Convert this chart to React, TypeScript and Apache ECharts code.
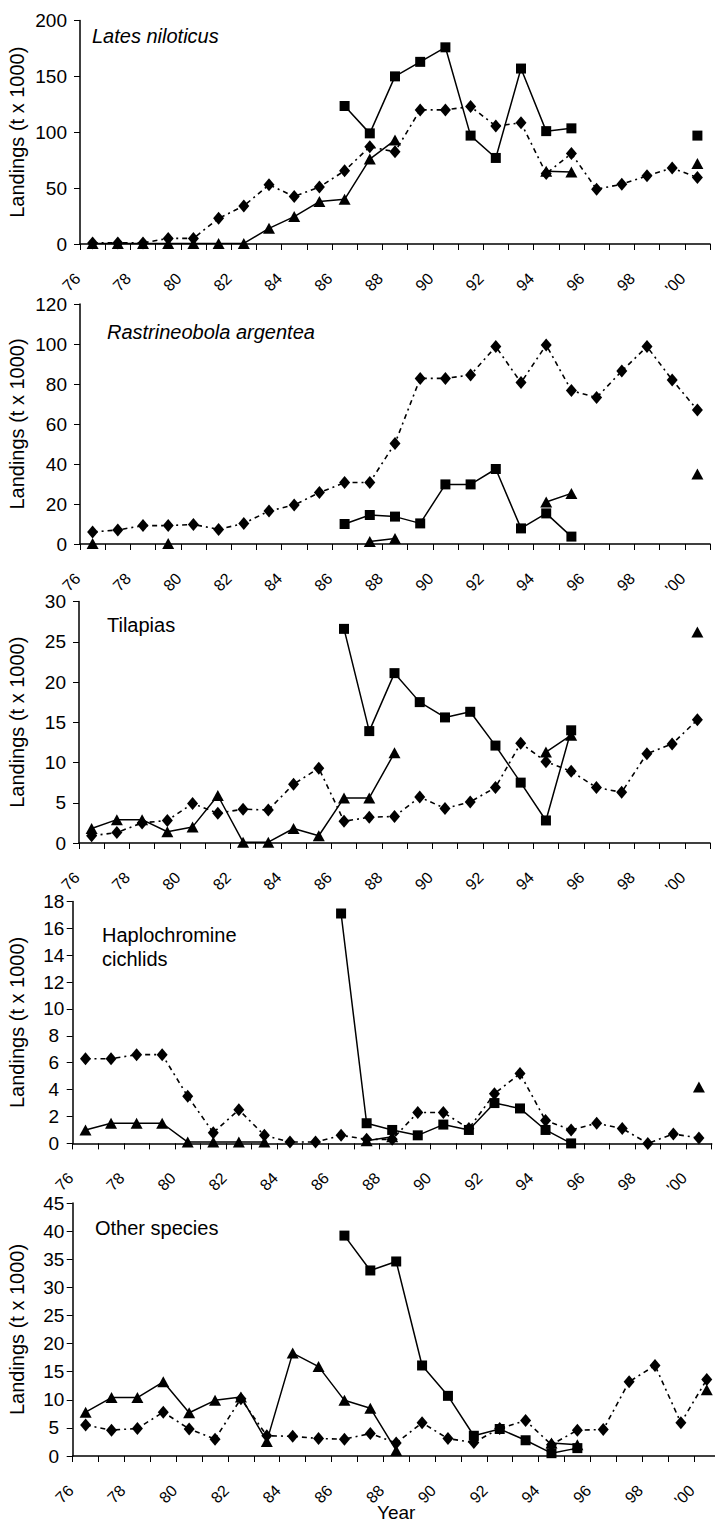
import React, { useEffect, useRef } from "react";
import * as echarts from "echarts";

// ---------- DATA ----------
const years = ["76", "77", "78", "79", "80", "81", "82", "83", "84", "85", "86", "87", "88", "89", "90", "91", "92", "93", "94", "95", "96", "97", "98", "99", "'00"];

const yAxisName = "Landings (t x 1000)";
const xAxisName = "Year";

const panelTitles = ["Lates niloticus", "Rastrineobola argentea", "Tilapias", "Haplochromine\ncichlids", "Other species"];
const titleItalic = [true, true, false, false, false];

const yMax = [200, 120, 30, 18, 45];
const yStep = [50, 20, 5, 2, 5];

// Lates niloticus
const latesSquare = [null, null, null, null, null, null, null, null, null, null, 123.5, 99, 150, 163, 176, 97, 77, 157, 101, 103.5, null, null, null, null, 97];
const latesTriangle = [0.5, 0.5, 0.5, 0.5, 0.5, 0.5, 0.5, 14, 24.5, 38, 40, 76, 93, null, null, null, null, null, 65, 64.5, null, null, null, null, 72];
const latesDiamond = [1, 1, 1, 5, 5, 23, 34, 53, 42.5, 51, 65.5, 87, 82.5, 120, 120, 123, 105.5, 108.5, 63, 81, 49, 53.5, 61, 68, 59.5];

// Rastrineobola argentea
const rastSquare = [null, null, null, null, null, null, null, null, null, null, 10, 14.5, 13.7, 10.3, 29.8, 29.8, 37.5, 7.8, 15.3, 3.7, null, null, null, null, null];
const rastTriangle = [0.3, null, null, 0.3, null, null, null, null, null, null, null, 1.2, 2.8, null, null, null, null, null, 21, 25.3, null, null, null, null, 35];
const rastDiamond = [6.0, 7, 9.2, 9.2, 9.8, 7.3, 10.3, 16.5, 19.5, 25.7, 30.7, 30.8, 50.3, 82.8, 82.8, 84.5, 98.7, 80.7, 99.5, 76.7, 73.2, 86.5, 98.7, 82, 67];

// Tilapias
const tilSquare = [null, null, null, null, null, null, null, null, null, null, 26.6, 13.9, 21.1, 17.5, 15.6, 16.3, 12.1, 7.5, 2.8, 14.0, null, null, null, null, null];
const tilTriangle = [1.8, 2.9, 2.9, 1.4, 2.0, 5.9, 0.1, 0.1, 1.8, 0.9, 5.6, 5.6, 11.2, null, null, null, null, null, 11.3, 13.4, null, null, null, null, 26.2];
const tilDiamond = [0.9, 1.3, 2.5, 2.8, 4.9, 3.7, 4.2, 4.1, 7.3, 9.3, 2.7, 3.2, 3.3, 5.7, 4.3, 5.1, 6.9, 12.4, 10.1, 8.9, 6.9, 6.3, 11.1, 12.3, 15.3];

// Haplochromine cichlids
const hapSquare = [null, null, null, null, null, null, null, null, null, null, 17.1, 1.5, 1.0, 0.6, 1.4, 1.0, 3.0, 2.6, 1.0, 0.0, null, null, null, null, null];
const hapTriangle = [1.0, 1.5, 1.5, 1.5, 0.1, 0.1, 0.1, 0.1, null, null, null, 0.2, 0.5, null, null, null, null, null, null, null, null, null, null, null, 4.2];
const hapDiamond = [6.3, 6.3, 6.6, 6.6, 3.5, 0.8, 2.5, 0.6, 0.1, 0.1, 0.6, 0.3, 0.3, 2.3, 2.3, 1.1, 3.7, 5.2, 1.7, 1.0, 1.5, 1.1, 0.0, 0.7, 0.4];

// Other species
const othSquare = [null, null, null, null, null, null, null, null, null, null, 39.2, 33.0, 34.6, 16.1, 10.7, 3.6, 4.8, 2.8, 0.5, 1.4, null, null, null, null, null];
const othTriangle = [7.8, 10.4, 10.4, 13.2, 7.7, 9.9, 10.5, 2.6, 18.3, 15.9, 9.9, 8.5, 1.0, null, null, null, null, null, 2.3, 2.0, null, null, null, null, 11.8];
const othDiamond = [5.5, 4.6, 4.9, 7.8, 4.8, 3.0, 10.2, 3.6, 3.5, 3.1, 3.0, 4.0, 2.3, 5.9, 3.1, 2.4, 4.9, 6.3, 2.0, 4.6, 4.7, 13.2, 16.1, 5.9, 13.6];

const squareSets = [latesSquare, rastSquare, tilSquare, hapSquare, othSquare];
const triangleSets = [latesTriangle, rastTriangle, tilTriangle, hapTriangle, othTriangle];
const diamondSets = [latesDiamond, rastDiamond, tilDiamond, hapDiamond, othDiamond];

// ---------- LAYOUT ----------
const FONT = "'Liberation Sans', Arial, Helvetica, sans-serif";
const grids = [
  { left: 80, top: 20.5, width: 630, height: 223.5 },
  { left: 80, top: 304, width: 630, height: 240 },
  { left: 79, top: 601.5, width: 631, height: 241.5 },
  { left: 72.7, top: 901.4, width: 639, height: 242 },
  { left: 72.7, top: 1203, width: 647, height: 253 },
];
const yLabelAlign = ["right", "right", "right", "center", "center"];
const yLabelMargin = [13, 13, 13, 19, 19];
const yNameGap = [53, 53, 52, 45.7, 45.7];
const titlePos = [
  { x: 92, y: 36 },
  { x: 107, y: 332 },
  { x: 107, y: 625 },
  { x: 102, y: 947 },
  { x: 95, y: 1228 },
];

export default function App() {
  const ref = useRef<HTMLDivElement>(null);

  useEffect(() => {
    document.body.style.margin = "0";
    if (!ref.current) return;
    const chart = echarts.init(ref.current, undefined, { renderer: "svg" });

    const black = "#000";
    const xAxis: any[] = [];
    const yAxis: any[] = [];
    const series: any[] = [];
    const graphic: any[] = [];

    for (let i = 0; i < 5; i++) {
      xAxis.push({
        type: "category",
        gridIndex: i,
        data: years,
        boundaryGap: true,
        axisLine: { show: true, lineStyle: { color: black, width: 1.5 } },
        axisTick: { show: true, interval: 0, length: 6, lineStyle: { color: black, width: 1 } },
        axisLabel: {
          interval: 1,
          rotate: 45,
          margin: 17,
          padding: [0, 21, 0, 0],
          color: black,
          fontSize: 16,
          fontFamily: FONT,
          hideOverlap: false,
        },
        splitLine: { show: false },
        ...(i === 4
          ? {
              name: xAxisName,
              nameLocation: "middle",
              nameGap: 47,
              nameMoveOverlap: false,
              nameTextStyle: { color: black, fontSize: 19, fontFamily: FONT },
            }
          : {}),
      });
      yAxis.push({
        type: "value",
        gridIndex: i,
        min: 0,
        max: yMax[i],
        interval: yStep[i],
        axisLine: { show: true, lineStyle: { color: black, width: 1.5 } },
        axisTick: { show: true, length: 6, lineStyle: { color: black, width: 1 } },
        axisLabel: {
          color: black,
          fontSize: 19,
          fontFamily: FONT,
          margin: yLabelMargin[i],
          align: yLabelAlign[i],
        },
        splitLine: { show: false },
        name: yAxisName,
        nameLocation: "middle",
        nameGap: yNameGap[i],
        nameMoveOverlap: false,
        nameTextStyle: { color: black, fontSize: 20, fontFamily: FONT },
      });

      series.push({
        type: "line",
        xAxisIndex: i,
        yAxisIndex: i,
        data: diamondSets[i],
        symbol: "diamond",
        symbolSize: [11, 13],
        showAllSymbol: true,
        connectNulls: false,
        lineStyle: { color: black, width: 1.6, type: [5, 4, 2, 4] },
        itemStyle: { color: black },
        silent: true,
      });
      series.push({
        type: "line",
        xAxisIndex: i,
        yAxisIndex: i,
        data: triangleSets[i],
        symbol: "triangle",
        symbolSize: [12, 11],
        showAllSymbol: true,
        connectNulls: false,
        lineStyle: { color: black, width: 1.5, type: "solid" },
        itemStyle: { color: black },
        silent: true,
      });
      series.push({
        type: "line",
        xAxisIndex: i,
        yAxisIndex: i,
        data: squareSets[i],
        symbol: "rect",
        symbolSize: 10,
        showAllSymbol: true,
        connectNulls: false,
        lineStyle: { color: black, width: 1.5, type: "solid" },
        itemStyle: { color: black },
        silent: true,
      });

      graphic.push({
        type: "text",
        x: titlePos[i].x,
        y: titlePos[i].y,
        silent: true,
        style: {
          text: panelTitles[i],
          fill: black,
          fontSize: 20,
          fontFamily: FONT,
          fontStyle: titleItalic[i] ? "italic" : "normal",
          lineHeight: 24,
          align: "left",
          verticalAlign: "middle",
        },
      });
    }

    chart.setOption({
      animation: false,
      backgroundColor: "#fff",
      grid: grids.map((g) => ({ ...g, containLabel: false, outerBoundsMode: "none" })),
      xAxis,
      yAxis,
      series,
      graphic,
    });

    return () => {
      chart.dispose();
    };
  }, []);

  return <div ref={ref} style={{ width: 715, height: 1525 }} />;
}
